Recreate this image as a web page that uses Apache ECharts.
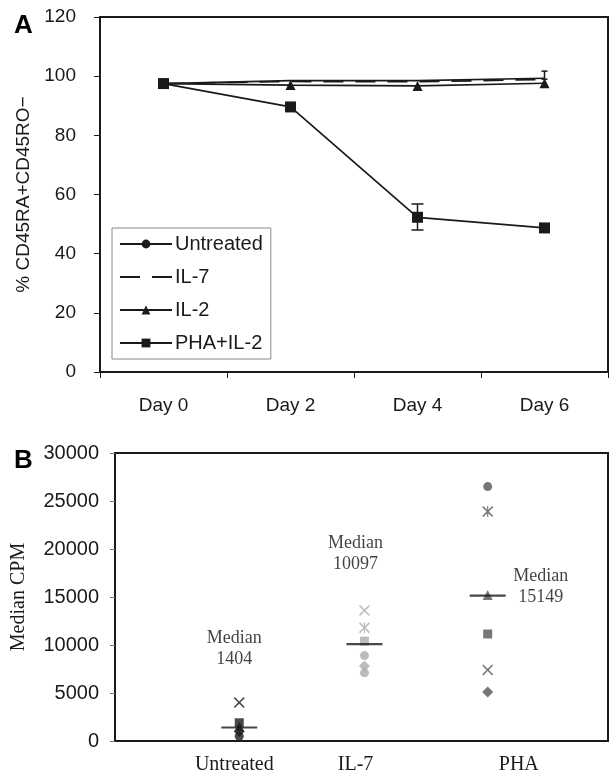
<!DOCTYPE html>
<html><head><meta charset="utf-8">
<script src="https://cdn.jsdelivr.net/npm/echarts@6/dist/echarts.min.js"></script>
<style>html,body{margin:0;padding:0;background:#fff}#c{width:610px;height:775px}</style>
</head><body><div id="c"></div>
<script>
// ---------- Panel A data ----------
const days = ['Day 0', 'Day 2', 'Day 4', 'Day 6'];
const untreatedA = [97.5, 98.5, 98.5, 99.3];
const il7A = [97.5, 98.2, 98.1, 98.9];
const il2A = [97.5, 97.0, 96.7, 97.6];
const phaA = [97.5, 89.6, 52.3, 48.7];
const errDay = ['Day 4', 'Day 6'];
const errLow = [48.0, 99.0];
const errHigh = [56.8, 101.7];
const yTicksA = [0, 20, 40, 60, 80, 100, 120];

// ---------- Panel B data ----------
const groups = ['Untreated', 'IL-7', 'PHA'];
const groupX = [25.2, 50.6, 75.6];
const untreatedB = [4000, 1900, 1500, 1000, 500];
const untreatedMk = ['x', 'square', 'triangle', 'diamond', 'circle'];
const il7B = [13600, 11800, 10400, 8900, 7800, 7100];
const il7Mk = ['x', 'star', 'square', 'circle', 'diamond', 'circle'];
const phaB = [26500, 23900, 15200, 11150, 7400, 5100];
const phaMk = ['circle', 'star', 'triangle', 'square', 'x', 'diamond'];
const medians = [1404, 10097, 15149];
const yTicksB = [0, 5000, 10000, 15000, 20000, 25000, 30000];

// ---------- styling ----------
const SANS = 'Liberation Sans, Arial, sans-serif';
const SERIF = 'Liberation Serif, Times New Roman, serif';
const INK = '#1a1a1a';
const X_PATH = 'path://M0,1L1,0L5,4L9,0L10,1L6,5L10,9L9,10L5,6L1,10L0,9L4,5Z';
const STAR_PATH = 'path://M0,1L1,0L5,4L9,0L10,1L6,5L10,9L9,10L5,6L1,10L0,9L4,5Z M4.5,0L5.5,0L5.5,10L4.5,10Z';
const markerDef = {
  x: { symbol: X_PATH, size: 11 },
  star: { symbol: STAR_PATH, size: 11 },
  square: { symbol: 'rect', size: 9 },
  circle: { symbol: 'circle', size: 9 },
  diamond: { symbol: 'diamond', size: 11 },
  triangle: { symbol: 'triangle', size: 10 }
};
function groupSeries(gi, vals, mks, color) {
  return {
    type: 'scatter', xAxisIndex: 1, yAxisIndex: 1, z: 3,
    itemStyle: { color: color },
    data: vals.map((v, i) => ({
      value: [groupX[gi], v],
      symbol: markerDef[mks[i]].symbol,
      symbolSize: markerDef[mks[i]].size
    }))
  };
}
const labelX = [24.2, 48.8, 81.9];
const medianLabelOffset = [[-5, -79], [-9, -90], [53, -9]];

const chart = echarts.init(document.getElementById('c'), null, { renderer: 'canvas' });
const lineA = (name, data, symbol, size, dashed, z, showSym) => ({
  name, type: 'line', data, symbol, symbolSize: size, z: z || 2,
  showSymbol: showSym !== false,
  xAxisIndex: 0, yAxisIndex: 0,
  lineStyle: { color: INK, width: 1.7, type: dashed ? [20, 12] : 'solid' },
  itemStyle: { color: INK },
  emphasis: { disabled: true }
});

chart.setOption({
  animation: false,
  backgroundColor: '#fff',
  title: [
    { text: 'A', left: 9, top: 8, textStyle: { fontFamily: SANS, fontWeight: 'bold', fontSize: 26, color: '#000' } },
    { text: 'B', left: 9, top: 443, textStyle: { fontFamily: SANS, fontWeight: 'bold', fontSize: 26, color: '#000' } }
  ],
  grid: [
    { left: 100, top: 17, right: 2, height: 355, show: true, borderColor: INK, borderWidth: 2, backgroundColor: 'transparent' },
    { left: 115, top: 453, right: 2, height: 290, show: true, borderColor: INK, borderWidth: 2, backgroundColor: 'transparent' }
  ],
  legend: {
    data: [
      'Untreated',
      { name: 'IL-7', itemStyle: { color: 'rgba(0,0,0,0)', borderWidth: 0 }, lineStyle: { type: [20, 12] } },
      'IL-2',
      'PHA+IL-2'
    ],
    orient: 'vertical', left: 112, top: 228,
    padding: [6, 8, 6, 7], itemGap: 13, itemWidth: 52, itemHeight: 11,
    backgroundColor: '#fff', borderColor: '#888', borderWidth: 1,
    lineStyle: { width: 2 },
    textStyle: { fontFamily: SANS, fontSize: 20, color: INK, padding: [0, 0, 0, -2] },
    selectedMode: false
  },
  xAxis: [
    {
      type: 'category', gridIndex: 0, data: days, boundaryGap: true,
      axisLine: { lineStyle: { color: INK, width: 2 } },
      axisTick: { show: true, length: 6, lineStyle: { color: INK } },
      axisLabel: { fontFamily: SANS, fontSize: 19, color: INK, margin: 24 },
      splitLine: { show: false }
    },
    {
      type: 'value', gridIndex: 1, min: 0, max: 100,
      axisLine: { lineStyle: { color: INK, width: 2 } },
      axisTick: { show: false },
      axisLabel: {
        fontFamily: SERIF, fontSize: 20, color: INK, margin: 14,
        customValues: labelX,
        formatter: v => { const i = labelX.findIndex(x => Math.abs(x - v) < 0.01); return i >= 0 ? groups[i] : ''; }
      },
      splitLine: { show: false }
    }
  ],
  yAxis: [
    {
      type: 'value', gridIndex: 0, min: 0, max: 120, interval: 20,
      name: '% CD45RA+CD45RO\u2212', nameLocation: 'middle', nameGap: 67,
      nameTextStyle: { fontFamily: SANS, fontSize: 19, color: INK },
      axisLine: { show: true, lineStyle: { color: INK, width: 2 } },
      axisTick: { show: true, length: 6, lineStyle: { color: INK } },
      axisLabel: { fontFamily: SANS, fontSize: 19, color: INK, margin: 24, formatter: v => yTicksA.includes(v) ? String(v) : '' },
      splitLine: { show: false }
    },
    {
      type: 'value', gridIndex: 1, min: 0, max: 30000, interval: 5000,
      name: 'Median CPM', nameLocation: 'middle', nameGap: 86,
      nameTextStyle: { fontFamily: SERIF, fontSize: 20, color: INK },
      axisLine: { show: true, lineStyle: { color: INK, width: 2 } },
      axisTick: { show: true, length: 5, lineStyle: { color: '#777' } },
      axisLabel: { fontFamily: SANS, fontSize: 20, color: INK, margin: 16, formatter: v => yTicksB.includes(v) ? String(v) : '' },
      splitLine: { show: false }
    }
  ],
  series: [
    lineA('Untreated', untreatedA, 'circle', 7, false, 2, false),
    lineA('IL-7', il7A, 'none', 0, true, 2),
    lineA('IL-2', il2A, 'triangle', 10, false, 3),
    lineA('PHA+IL-2', phaA, 'rect', 11, false, 4),
    {
      type: 'custom', xAxisIndex: 0, yAxisIndex: 0, z: 5,
      data: errDay.map((d, i) => [days.indexOf(d), errLow[i], errHigh[i]]),
      renderItem: (params, api) => {
        const lo = api.coord([api.value(0), api.value(1)]);
        const hi = api.coord([api.value(0), api.value(2)]);
        const w = params.dataIndex === 0 ? 6 : 3;
        const st = { stroke: INK, lineWidth: 1.5 };
        return { type: 'group', children: [
          { type: 'line', shape: { x1: lo[0], y1: lo[1], x2: hi[0], y2: hi[1] }, style: st },
          { type: 'line', shape: { x1: lo[0] - w, y1: lo[1], x2: lo[0] + w, y2: lo[1] }, style: st },
          { type: 'line', shape: { x1: hi[0] - w, y1: hi[1], x2: hi[0] + w, y2: hi[1] }, style: st }
        ] };
      }
    },
    groupSeries(0, untreatedB, untreatedMk, '#1c1c1c'),
    groupSeries(1, il7B, il7Mk, '#ababab'),
    groupSeries(2, phaB, phaMk, '#555555'),
    {
      type: 'scatter', xAxisIndex: 1, yAxisIndex: 1, z: 4,
      symbol: 'rect', symbolSize: [36, 2.2],
      itemStyle: { color: INK },
      data: medians.map((m, i) => ({
        value: [groupX[i], m],
        label: { offset: medianLabelOffset[i] }
      })),
      label: {
        show: true, position: 'inside', color: '#111',
        fontFamily: SERIF, fontSize: 18, lineHeight: 21, align: 'center',
        formatter: p => 'Median\n' + p.value[1]
      }
    }
  ]
});
</script>
</body></html>
